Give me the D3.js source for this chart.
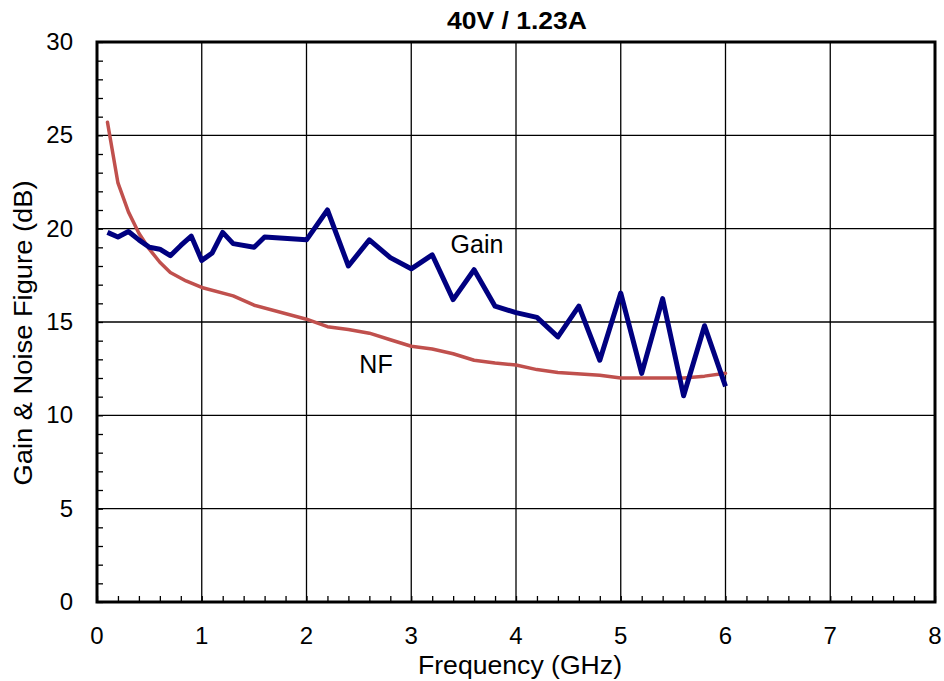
<!DOCTYPE html>
<html>
<head>
<meta charset="utf-8">
<style>
	body { margin: 0; background: #fff; }
	text { font-family: "Liberation Sans", Arial, sans-serif; }
</style>
</head>
<body>
<script src="https://d3js.org/d3.v7.min.js"></script>
<script>
// data
var gainFreq = [0.1, 0.2, 0.3, 0.4, 0.5, 0.6, 0.7, 0.8, 0.9, 1.0, 1.1, 1.2, 1.3, 1.5, 1.6, 2.0, 2.2, 2.4, 2.6, 2.8, 3.0, 3.2, 3.4, 3.6, 3.8, 4.0, 4.2, 4.4, 4.6, 4.8, 5.0, 5.2, 5.4, 5.6, 5.8, 6.0];
var gainVals = [19.8, 19.55, 19.85, 19.4, 19.0, 18.9, 18.55, 19.1, 19.6, 18.3, 18.7, 19.8, 19.2, 19.0, 19.55, 19.4, 21.0, 18.0, 19.4, 18.45, 17.85, 18.6, 16.2, 17.8, 15.85, 15.5, 15.25, 14.2, 15.85, 12.95, 16.55, 12.25, 16.25, 11.05, 14.8, 11.55];

var nfFreq = [0.1, 0.2, 0.3, 0.4, 0.5, 0.6, 0.7, 0.85, 1.0, 1.3, 1.5, 2.0, 2.2, 2.4, 2.6, 2.8, 3.0, 3.2, 3.4, 3.6, 3.8, 4.0, 4.2, 4.4, 4.8, 5.0, 5.6, 5.8, 6.0];
var nfVals = [25.7, 22.45, 20.9, 19.75, 18.9, 18.2, 17.65, 17.2, 16.85, 16.4, 15.9, 15.15, 14.75, 14.6, 14.4, 14.05, 13.7, 13.55, 13.3, 12.95, 12.8, 12.7, 12.45, 12.3, 12.15, 12.0, 12.0, 12.1, 12.25];

var xTicks = [0, 1, 2, 3, 4, 5, 6, 7, 8];
var yTicks = [0, 5, 10, 15, 20, 25, 30];

var W = 944, H = 681;
var L = 97, R = 935, T = 42, B = 602;

var svg = d3.select("body").append("svg")
	.attr("width", W)
	.attr("height", H);

var x = d3.scaleLinear().domain([0, 8]).range([L, R]);
var y = d3.scaleLinear().domain([0, 30]).range([B, T]);

// grid
svg.append("g").selectAll("line").data(xTicks.slice(1, -1)).enter()
	.append("line")
	.attr("x1", function(d) { return x(d); })
	.attr("x2", function(d) { return x(d); })
	.attr("y1", T).attr("y2", B)
	.attr("stroke", "#000").attr("stroke-width", 1.3);
svg.append("g").selectAll("line").data(yTicks.slice(1, -1)).enter()
	.append("line")
	.attr("y1", function(d) { return y(d); })
	.attr("y2", function(d) { return y(d); })
	.attr("x1", L).attr("x2", R)
	.attr("stroke", "#000").attr("stroke-width", 1.3);

// minor ticks, pointing inward
svg.append("g").attr("transform", "translate(0," + B + ")")
	.call(d3.axisTop(x).ticks(40).tickSize(6).tickFormat(""))
	.call(function(g) { g.select(".domain").remove(); g.selectAll("line").attr("stroke-width", 1.3); });
svg.append("g").attr("transform", "translate(" + L + ",0)")
	.call(d3.axisRight(y).ticks(30).tickSize(6).tickFormat(""))
	.call(function(g) { g.select(".domain").remove(); g.selectAll("line").attr("stroke-width", 1.3); });

// frame
svg.append("rect")
	.attr("x", L).attr("y", T)
	.attr("width", R - L).attr("height", B - T)
	.attr("fill", "none").attr("stroke", "#000").attr("stroke-width", 3);

// tick labels
svg.append("g").selectAll("text").data(xTicks).enter()
	.append("text")
	.attr("x", function(d) { return x(d); })
	.attr("y", 644)
	.attr("text-anchor", "middle")
	.attr("font-size", 24)
	.text(function(d) { return d; });
svg.append("g").selectAll("text").data(yTicks).enter()
	.append("text")
	.attr("x", 73)
	.attr("y", function(d) { return y(d) + 8; })
	.attr("text-anchor", "end")
	.attr("font-size", 24)
	.text(function(d) { return d; });

// lines
var line = d3.line()
	.x(function(d) { return x(d[0]); })
	.y(function(d) { return y(d[1]); });

svg.append("path")
	.datum(d3.zip(nfFreq, nfVals))
	.attr("d", line)
	.attr("fill", "none")
	.attr("stroke", "#C0504D")
	.attr("stroke-width", 3.5)
	.attr("stroke-linejoin", "round")
	.attr("stroke-linecap", "round");

svg.append("path")
	.datum(d3.zip(gainFreq, gainVals))
	.attr("d", line)
	.attr("fill", "none")
	.attr("stroke", "#000080")
	.attr("stroke-width", 5)
	.attr("stroke-linejoin", "round");

// labels
svg.append("text").attr("x", 517).attr("y", 29)
	.attr("text-anchor", "middle").attr("font-size", 23).attr("font-weight", "bold")
	.attr("textLength", 140).attr("lengthAdjust", "spacingAndGlyphs")
	.text("40V / 1.23A");
svg.append("text").attr("x", 477).attr("y", 253)
	.attr("text-anchor", "middle").attr("font-size", 25)
	.text("Gain");
svg.append("text").attr("x", 376).attr("y", 373)
	.attr("text-anchor", "middle").attr("font-size", 25)
	.text("NF");
svg.append("text").attr("x", 520).attr("y", 674)
	.attr("text-anchor", "middle").attr("font-size", 25)
	.attr("textLength", 204).attr("lengthAdjust", "spacingAndGlyphs")
	.text("Frequency (GHz)");
svg.append("text")
	.attr("transform", "translate(32,333) rotate(-90)")
	.attr("text-anchor", "middle").attr("font-size", 25)
	.attr("textLength", 305).attr("lengthAdjust", "spacingAndGlyphs")
	.text("Gain & Noise Figure (dB)");
</script>
</body>
</html>
